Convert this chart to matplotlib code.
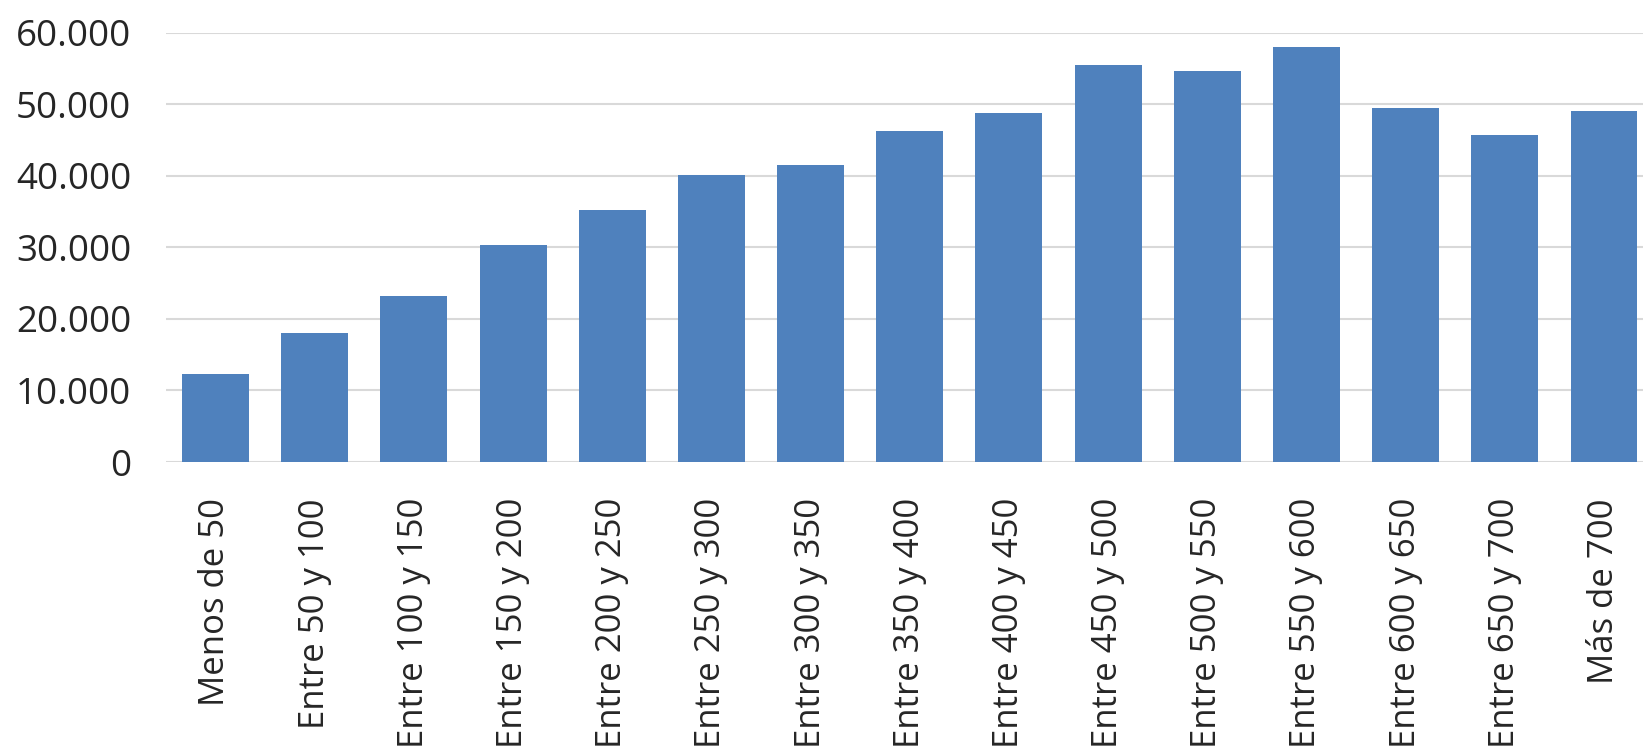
import matplotlib
matplotlib.use("Agg")
import matplotlib.pyplot as plt
from matplotlib.ticker import FuncFormatter

categories = ["Menos de 50", "Entre 50 y 100", "Entre 100 y 150", "Entre 150 y 200",
              "Entre 200 y 250", "Entre 250 y 300", "Entre 300 y 350", "Entre 350 y 400",
              "Entre 400 y 450", "Entre 450 y 500", "Entre 500 y 550", "Entre 550 y 600",
              "Entre 600 y 650", "Entre 650 y 700", "Más de 700"]
values = [12330, 18000, 23200, 30280, 35260, 40090, 41530, 46280,
          48790, 55440, 54650, 57950, 49440, 45670, 49020]
yticks = [0, 10000, 20000, 30000, 40000, 50000, 60000]

plt.rcParams['font.family'] = ['Open Sans', 'DejaVu Sans']

W, H = 1643, 755
fig = plt.figure(figsize=(W / 100, H / 100), dpi=100)
ax = fig.add_axes([165.9 / W, 1 - 462 / H, (1653.6 - 165.9) / W, (462 - 32.7) / H])

x = range(len(categories))
ax.bar(x, values, width=0.675, color="#4F81BD", zorder=3)
ax.set_xlim(-0.5, len(categories) - 0.5)
ax.set_ylim(0, 60000)
ax.set_yticks(yticks)
ax.yaxis.set_major_formatter(FuncFormatter(lambda v, p: f"{int(v):,}".replace(",", ".")))
ax.set_xticks(list(x))
ax.set_xticklabels(categories, rotation=90, fontsize=25, color="#262626")
for lab in ax.get_yticklabels():
    lab.set_fontsize(26.5)
    lab.set_color("#262626")
ax.tick_params(axis="both", length=0)
ax.tick_params(axis="y", pad=25)
ax.tick_params(axis="x", pad=26)
ax.grid(axis="y", color="#D9D9D9", linewidth=1.5, zorder=0)
for s in ax.spines.values():
    s.set_visible(False)

fig.savefig("out.png", dpi=100, facecolor="white")
